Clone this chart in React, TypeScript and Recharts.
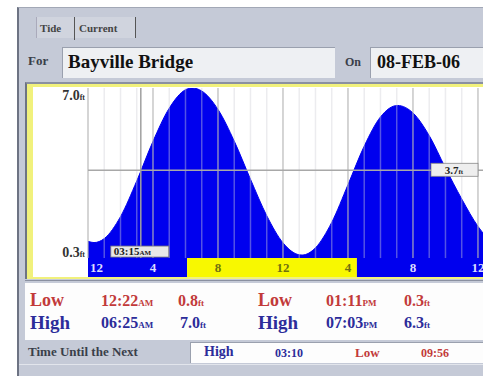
import React from "react"
import { AreaChart, Area, XAxis, YAxis, ReferenceLine, ReferenceArea } from "recharts"

// tide curve (hour of day, feet)
const hourMarks = [0, 0.37, 1, 2, 3, 4, 5, 6, 6.42, 7, 8, 9, 10, 11, 12, 13, 13.18, 14, 15, 16, 17, 18, 19.05, 20, 21, 22, 23, 24, 25]
const tideFt = [0.85, 0.8, 0.96, 1.84, 3.27, 4.86, 6.19, 6.93, 7.0, 6.88, 6.14, 4.87, 3.34, 1.88, 0.79, 0.31, 0.3, 0.59, 1.61, 3.12, 4.67, 5.84, 6.3, 6.0, 5.09, 3.79, 2.55, 1.45, 0.7]

const hourTicks = [0, 4, 8, 12, 16, 20, 24]
const hourLabels = ["12", "4", "8", "12", "4", "8", "12"]
const gridHours = [1, 2, 3, 5, 6, 7, 9, 10, 11, 13, 14, 15, 17, 18, 19, 21, 22, 23]
const sunrise = 6.1
const sunset = 16.55
const cursorHour = 3.25
const cursorLabel = "03:15"
const cursorFt = 3.7

const lowTimes = ["12:22", "01:11"]
const lowMer = ["AM", "PM"]
const lowFt = ["0.8", "0.3"]
const highTimes = ["06:25", "07:03"]
const highMer = ["AM", "PM"]
const highFt = ["7.0", "6.3"]
const nextHigh = "03:10"
const nextLow = "09:56"

const data = hourMarks.map((t, i) => ({ t, h: tideFt[i] }))

const SERIF = "'Liberation Serif', 'DejaVu Serif', serif"
const BLUE = "#0000ee"
const YELLOW = "#f8f800"
const BAR_TOP = 0.18
const Y_MIN = -0.58
const RED_TXT = "#c23a3a"
const BLUE_TXT = "#2c2c9a"

function HourTick(props: any) {
  const { x, y, payload } = props
  const v = payload.value
  const day = v > sunrise && v < sunset
  const i = hourTicks.indexOf(v)
  return (
    <text x={v === 0 ? x + 2 : x} y={y - 5} textAnchor={v === 0 ? "start" : "middle"}
      fill={day ? "#707010" : "#dcdcff"} fontSize={13} fontFamily={SERIF} fontWeight="bold">
      {hourLabels[i]}
    </text>
  )
}

function FtTick(props: any) {
  const { x, y, payload } = props
  const v = payload.value
  return (
    <text x={x} y={y + (v === 7 ? 12 : 2)} textAnchor="end" fill="#333" fontSize={14}
      fontFamily={SERIF} fontWeight="bold">
      {v.toFixed(1)}<tspan fontSize={8}>ft</tspan>
    </text>
  )
}

function CursorLabel(props: any) {
  const { viewBox } = props
  const bottom = viewBox.y + viewBox.height
  return (
    <g>
      <rect x={viewBox.x - 30} y={bottom - 12} width={58} height={11} fill="#e8e8e8" stroke="#777" strokeWidth={0.8} />
      <text x={viewBox.x - 27} y={bottom - 3} fill="#222" fontSize={11} fontFamily={SERIF} fontWeight="bold">
        {cursorLabel}<tspan fontSize={7}>AM</tspan>
      </text>
    </g>
  )
}

function LevelLabel(props: any) {
  const { viewBox } = props
  const right = viewBox.x + viewBox.width
  return (
    <g>
      <rect x={right - 52} y={viewBox.y - 7} width={47} height={13} fill="#eeeeee" stroke="#888" strokeWidth={0.8} />
      <text x={right - 29} y={viewBox.y + 4} fill="#222" fontSize={11} fontFamily={SERIF} fontWeight="bold" textAnchor="middle">
        {cursorFt.toFixed(1)}<tspan fontSize={7}>ft</tspan>
      </text>
    </g>
  )
}

function TideChart() {
  return (
    <AreaChart width={456} height={195} data={data} margin={{ top: 4, right: 0, bottom: 1, left: 0 }}>
      <ReferenceArea x1={0} x2={sunrise} y1={Y_MIN} y2={BAR_TOP} fill={BLUE} fillOpacity={1} stroke="none" ifOverflow="hidden" />
      <ReferenceArea x1={sunrise} x2={sunset} y1={Y_MIN} y2={BAR_TOP} fill={YELLOW} fillOpacity={1} stroke="none" ifOverflow="hidden" />
      <ReferenceArea x1={sunset} x2={24.31} y1={Y_MIN} y2={BAR_TOP} fill={BLUE} fillOpacity={1} stroke="none" ifOverflow="hidden" />
      <XAxis dataKey="t" type="number" domain={[0, 24.31]} allowDataOverflow ticks={hourTicks}
        tick={<HourTick />} tickLine={false} axisLine={false} tickSize={0} tickMargin={0} height={1} interval={0} />
      <YAxis type="number" domain={[Y_MIN, 7]} allowDataOverflow ticks={[0.3, 7]} width={61}
        tick={<FtTick />} tickLine={false} axisLine={false} tickSize={0} tickMargin={3} interval={0} />
      <Area dataKey="h" type="monotone" stroke={BLUE} strokeWidth={1} fill={BLUE} fillOpacity={1}
        baseValue={BAR_TOP} dot={false} activeDot={false} isAnimationActive={false} />
      {gridHours.map((g) => (
        <ReferenceLine key={g} segment={[{ x: g, y: BAR_TOP }, { x: g, y: 7 }]} stroke="#d0d0d8" strokeOpacity={0.4} strokeWidth={1.5} />
      ))}
      {hourTicks.map((g) => (
        <ReferenceLine key={"m" + g} segment={[{ x: g, y: BAR_TOP }, { x: g, y: 7 }]} stroke="#b4b4b4" strokeOpacity={0.75} strokeWidth={1.5} />
      ))}
      <ReferenceLine y={cursorFt} stroke="#a8a8a8" strokeWidth={1.5} label={<LevelLabel />} />
      <ReferenceLine segment={[{ x: cursorHour, y: BAR_TOP }, { x: cursorHour, y: 7 }]} stroke="#a0a0a0" strokeWidth={1.5} label={<CursorLabel />} />
    </AreaChart>
  )
}

const abs = (l: number, t: number, extra: React.CSSProperties = {}): React.CSSProperties => ({
  position: "absolute", left: l, top: t, fontFamily: SERIF, fontWeight: "bold", whiteSpace: "nowrap", ...extra,
})

function Time({ t, m, color, l, top }: { t: string; m: string; color: string; l: number; top: number }) {
  return (
    <div style={abs(l, top, { color, fontSize: 16, lineHeight: "20px" })}>
      {t}<span style={{ fontSize: 9 }}>{m}</span>
    </div>
  )
}

export default function App() {
  return (
    <div style={{ position: "absolute", left: 0, top: 0, width: 483, height: 376, overflow: "hidden", background: "#fff" }}>
      <div style={{ position: "absolute", left: 17, top: 7, right: 0, bottom: 0, background: "#c5cad7", borderLeft: "2px solid #6d7383", borderTop: "1px solid #a2a8b6" }} />

      {/* tabs */}
      <div style={{ position: "absolute", left: 36, top: 17, width: 98, height: 21, background: "#d0d4de", borderRight: "1px solid #555", borderLeft: "1px solid #aab" }} />
      <div style={{ position: "absolute", left: 74, top: 17, width: 1, height: 23, background: "#555" }} />
      <div style={abs(40, 19, { fontSize: 11, color: "#444", lineHeight: "18px" })}>Tide</div>
      <div style={abs(79, 19, { fontSize: 11, color: "#444", lineHeight: "18px" })}>Current</div>

      {/* station / date */}
      <div style={abs(28, 52, { fontSize: 13, color: "#3a3f4a", lineHeight: "18px" })}>For</div>
      <div style={{ position: "absolute", left: 62, top: 47, width: 272, height: 30, background: "#eef0f3", borderTop: "1px solid #9aa0ae", borderLeft: "1px solid #9aa0ae" }} />
      <div style={abs(68, 48, { fontSize: 19, color: "#111", lineHeight: "28px" })}>Bayville Bridge</div>
      <div style={abs(345, 53, { fontSize: 12, color: "#3a3f4a", lineHeight: "18px" })}>On</div>
      <div style={{ position: "absolute", left: 370, top: 47, width: 113, height: 30, background: "#eef0f3", borderTop: "1px solid #9aa0ae", borderLeft: "1px solid #9aa0ae" }} />
      <div style={abs(377, 48, { fontSize: 18, color: "#111", lineHeight: "28px" })}>08-FEB-06</div>

      {/* chart box */}
      <div style={{ position: "absolute", left: 25, top: 82, width: 456, height: 195, background: "#f1f17c", borderLeft: "2px solid #6d7383", borderTop: "2px solid #8a90a0" }}>
        <div style={{ position: "absolute", left: 6, top: 3, right: 0, bottom: 2, background: "#fff" }} />
        <div style={{ position: "absolute", left: 0, top: 0 }}>
          <TideChart />
        </div>
      </div>
      <div style={{ position: "absolute", left: 25, top: 280, width: 458, height: 1, background: "#8a90a0" }} />

      {/* tide table */}
      <div style={{ position: "absolute", left: 25, top: 283, width: 458, height: 57, background: "#fdfdfd" }} />
      <div style={abs(30, 290, { fontSize: 18, color: RED_TXT, lineHeight: "20px" })}>Low</div>
      <Time t={lowTimes[0]} m={lowMer[0]} color={RED_TXT} l={101} top={291} />
      <div style={abs(178, 291, { fontSize: 16, color: RED_TXT, lineHeight: "20px" })}>{lowFt[0]}<span style={{ fontSize: 9 }}>ft</span></div>
      <div style={abs(258, 290, { fontSize: 18, color: RED_TXT, lineHeight: "20px" })}>Low</div>
      <Time t={lowTimes[1]} m={lowMer[1]} color={RED_TXT} l={326} top={291} />
      <div style={abs(404, 291, { fontSize: 16, color: RED_TXT, lineHeight: "20px" })}>{lowFt[1]}<span style={{ fontSize: 9 }}>ft</span></div>

      <div style={abs(30, 312, { fontSize: 19, color: BLUE_TXT, lineHeight: "22px" })}>High</div>
      <Time t={highTimes[0]} m={highMer[0]} color={BLUE_TXT} l={101} top={313} />
      <div style={abs(180, 313, { fontSize: 16, color: BLUE_TXT, lineHeight: "20px" })}>{highFt[0]}<span style={{ fontSize: 9 }}>ft</span></div>
      <div style={abs(258, 312, { fontSize: 19, color: BLUE_TXT, lineHeight: "22px" })}>High</div>
      <Time t={highTimes[1]} m={highMer[1]} color={BLUE_TXT} l={326} top={313} />
      <div style={abs(404, 313, { fontSize: 16, color: BLUE_TXT, lineHeight: "20px" })}>{highFt[1]}<span style={{ fontSize: 9 }}>ft</span></div>

      {/* time until next */}
      <div style={abs(28, 343, { fontSize: 13, color: "#3a3f4a", lineHeight: "18px" })}>Time Until the Next</div>
      <div style={{ position: "absolute", left: 190, top: 342, width: 293, height: 20, background: "#fdfdfd", borderTop: "1px solid #9aa0ae", borderLeft: "1px solid #9aa0ae" }} />
      <div style={abs(204, 343, { fontSize: 14, color: BLUE_TXT, lineHeight: "18px" })}>High</div>
      <div style={abs(275, 344, { fontSize: 12, color: BLUE_TXT, lineHeight: "18px" })}>{nextHigh}</div>
      <div style={abs(355, 344, { fontSize: 13, color: RED_TXT, lineHeight: "18px" })}>Low</div>
      <div style={abs(421, 344, { fontSize: 12, color: RED_TXT, lineHeight: "18px" })}>{nextLow}</div>
      <div style={{ position: "absolute", left: 19, top: 364, width: 464, height: 1, background: "#e2e5ec" }} />
    </div>
  )
}
